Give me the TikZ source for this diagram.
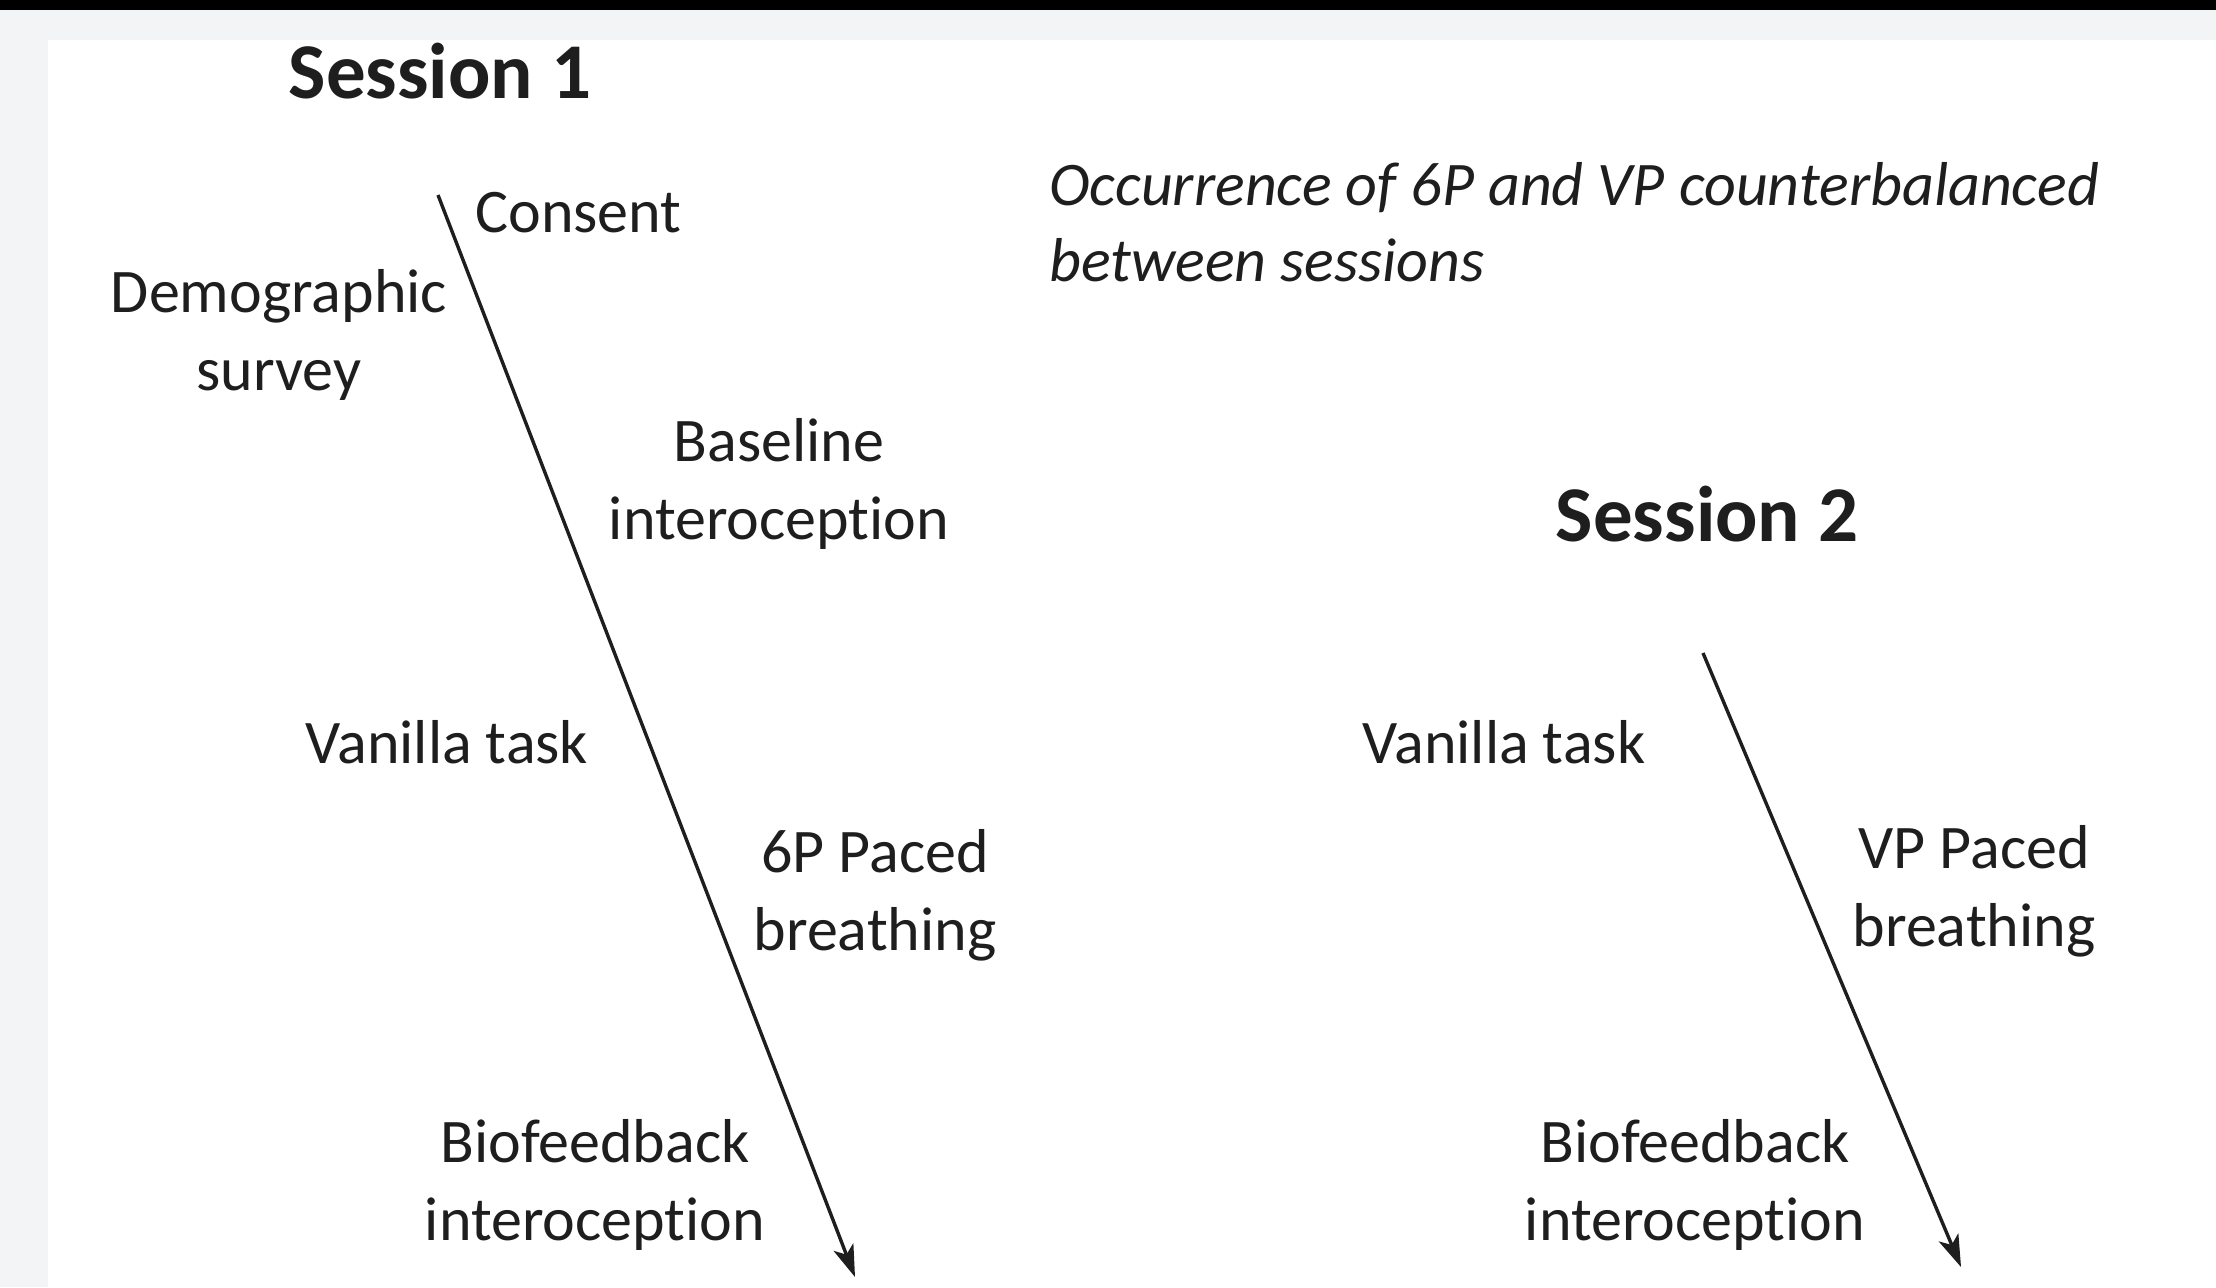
\documentclass[tikz,border=0pt]{standalone}
\usepackage{fontspec}
\setmainfont[Ligatures=NoCommon,Contextuals=NoAlternate]{Carlito}
\usetikzlibrary{arrows.meta}
\definecolor{pagegray}{HTML}{F3F4F6}
\definecolor{ink}{HTML}{1E1E1E}
\begin{document}
\begin{tikzpicture}[x=0.5pt,y=-0.5pt,
  lbl/.style={inner sep=0pt, align=center, text=ink, font=\fontsize{31}{39}\selectfont},
  ttl/.style={inner sep=0pt, text=ink, font=\fontsize{39.5}{46}\selectfont\bfseries},
  note/.style={inner sep=0pt, align=left, text=ink, font=\fontsize{31}{38}\selectfont\itshape},
  flow/.style={draw=ink, line width=1.7pt, -{Stealth[length=16pt,width=10.5pt,inset=4pt]}}]
\useasboundingbox (0,0) rectangle (2216,1287);
\fill[pagegray] (0,0) rectangle (2216,1287);
\fill[white] (48,40) rectangle (2216,1287);
\fill[black] (0,0) rectangle (2216,10);

% Session 1
\node[ttl] (s1) at (440,71) {Session 1};
\coordinate (a1s) at (438,195);
\coordinate (a1e) at (855,1277);
\draw[flow] (a1s) -- (a1e);
\node[lbl, anchor=west] (consent) at (475,213) {Consent};
\node[lbl] (demo) at (279,335) {Demographic\\survey};
\node[lbl] (base) at (779,484) {Baseline\\interoception};
\node[lbl] (van1) at (447,742) {Vanilla task};
\node[lbl] (pb6) at (875,895) {6P Paced\\breathing};
\node[lbl] (bio1) at (595,1185) {Biofeedback\\interoception};

% Note
\node[note, anchor=west] (occ) at (1049,222) {Occurrence of 6P and VP counterbalanced\\between sessions};

% Session 2
\node[ttl] (s2) at (1707,514) {Session 2};
\coordinate (a2s) at (1703,653);
\coordinate (a2e) at (1961,1267);
\draw[flow] (a2s) -- (a2e);
\node[lbl] (van2) at (1504,742) {Vanilla task};
\node[lbl] (pbv) at (1974,891) {VP Paced\\breathing};
\node[lbl] (bio2) at (1695,1185) {Biofeedback\\interoception};
\end{tikzpicture}
\end{document}
